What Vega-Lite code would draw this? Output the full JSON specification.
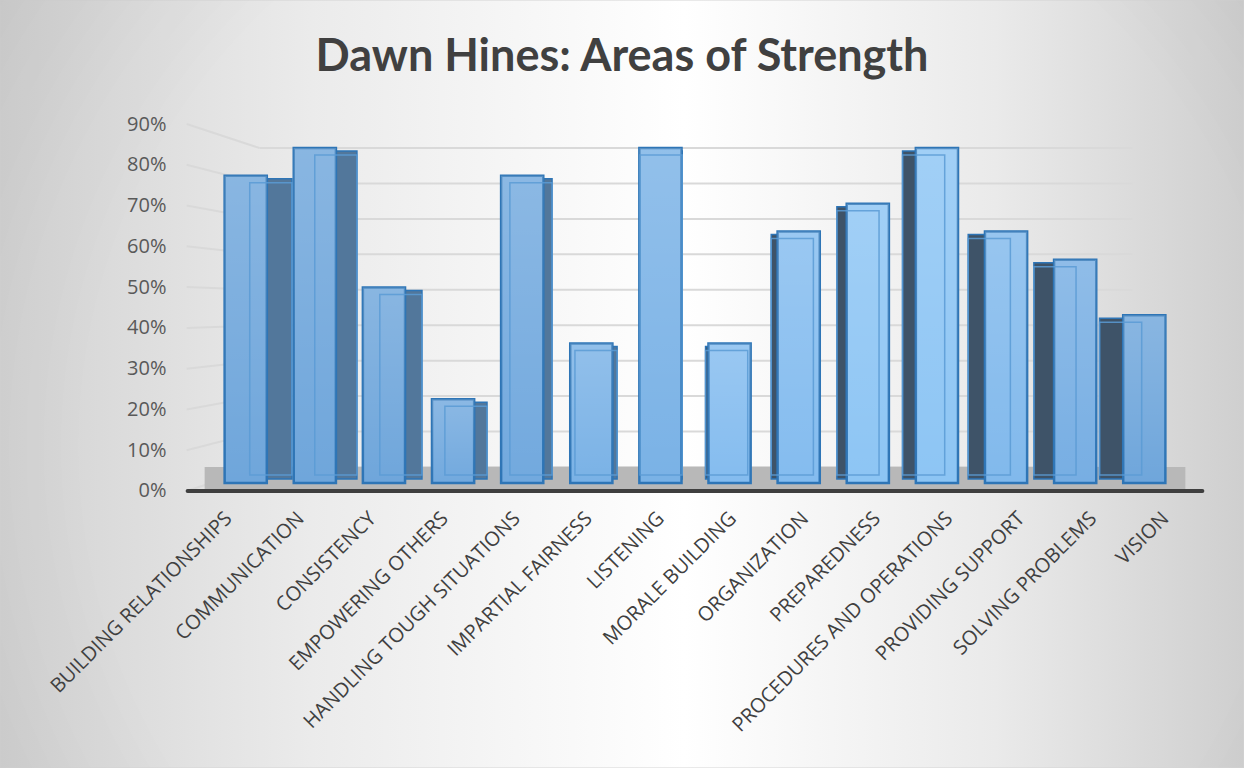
{
  "$schema": "https://vega.github.io/schema/vega-lite/v6.json",
  "width": 1244,
  "height": 768,
  "autosize": {"type": "none"},
  "padding": 0,
  "background": "#f4f4f4",
  "config": {"view": {"stroke": null}},
  "title": {
    "text": "Dawn Hines: Areas of Strength",
    "font": "Lato",
    "fontSize": 45,
    "fontWeight": "bold",
    "color": "#404040",
    "anchor": "middle",
    "frame": "group",
    "baseline": "alphabetic",
    "offset": -116
  },
  "datasets": {
    "skills": [
      {"skill": "BUILDING RELATIONSHIPS", "share": 0.786},
      {"skill": "COMMUNICATION", "share": 0.857},
      {"skill": "CONSISTENCY", "share": 0.5},
      {"skill": "EMPOWERING OTHERS", "share": 0.214},
      {"skill": "HANDLING TOUGH SITUATIONS", "share": 0.786},
      {"skill": "IMPARTIAL FAIRNESS", "share": 0.357},
      {"skill": "LISTENING", "share": 0.857},
      {"skill": "MORALE BUILDING", "share": 0.357},
      {"skill": "ORGANIZATION", "share": 0.643},
      {"skill": "PREPAREDNESS", "share": 0.714},
      {"skill": "PROCEDURES AND OPERATIONS", "share": 0.857},
      {"skill": "PROVIDING SUPPORT", "share": 0.643},
      {"skill": "SOLVING PROBLEMS", "share": 0.571},
      {"skill": "VISION", "share": 0.429}
    ],
    "ticks": [
      {"v": 0}, {"v": 0.1}, {"v": 0.2}, {"v": 0.3}, {"v": 0.4},
      {"v": 0.5}, {"v": 0.6}, {"v": 0.7}, {"v": 0.8}, {"v": 0.9}
    ]
  },
  "encoding": {
    "x": {
      "field": "skill",
      "type": "nominal",
      "title": null,
      "scale": {"range": [211.5, 1178.5], "paddingInner": 0.39, "paddingOuter": 0.19, "align": 0.5},
      "axis": {
        "orient": "bottom",
        "offset": -277,
        "zindex": 2,
        "labelAngle": -45,
        "labelFont": "Open Sans",
        "labelFontSize": 20,
        "labelColor": "#404040",
        "labelPadding": 17,
        "labelLimit": 400,
        "labelOffset": {"expr": "-24 + 0.0426 * (scale('x', datum.value) - 224.9)"},
        "domain": false,
        "ticks": false,
        "grid": false
      }
    }
  },
  "layer": [
    {
      "data": {"values": [{}]},
      "mark": {
        "type": "rect",
        "stroke": "#d4d4d4",
        "strokeWidth": 1,
        "fill": {
          "gradient": "linear",
          "x1": 0, "y1": 0, "x2": 1, "y2": 0,
          "stops": [
            {"offset": 0, "color": "#d2d2d2"},
            {"offset": 0.25, "color": "#ebebeb"},
            {"offset": 0.55, "color": "#ffffff"},
            {"offset": 0.8, "color": "#eaeaea"},
            {"offset": 1, "color": "#cfcfcf"}
          ]
        }
      },
      "encoding": {"x": null}
    },
    {
      "data": {"values": [{}]},
      "mark": {
        "type": "rect",
        "fill": {
          "gradient": "radial",
          "x1": 0.55, "y1": 0.55, "r1": 0,
          "x2": 0.55, "y2": 0.55, "r2": 0.8,
          "stops": [
            {"offset": 0, "color": "rgba(0,0,0,0)"},
            {"offset": 0.6, "color": "rgba(0,0,0,0)"},
            {"offset": 1, "color": "rgba(0,0,0,0.09)"}
          ]
        }
      },
      "encoding": {"x": null}
    },
    {
      "data": {"name": "ticks"},
      "mark": {"type": "rule", "color": "#d9d9d9", "strokeWidth": 2, "xOffset": 35, "x2Offset": -33},
      "encoding": {
        "x": {"datum": "BUILDING RELATIONSHIPS", "bandPosition": 0},
        "x2": {"datum": "VISION", "bandPosition": 1},
        "y": {"field": "v", "type": "quantitative", "scale": {"domain": [-0.84924, 1.31756], "nice": false, "zero": false}, "axis": null}
      }
    },
    {
      "data": {"name": "ticks"},
      "mark": {"type": "rule", "color": "#d9d9d9", "strokeWidth": 2, "xOffset": -38, "x2Offset": 35, "y2Offset": {"expr": "-24 + 53.4 * datum.v"}},
      "encoding": {
        "x": {"datum": "BUILDING RELATIONSHIPS", "bandPosition": 0},
        "x2": {"datum": "BUILDING RELATIONSHIPS", "bandPosition": 0},
        "y": {
          "field": "v",
          "type": "quantitative",
          "scale": {"domain": [-0.6793, 1.2041], "nice": false, "zero": false},
          "axis": {
            "orient": "left",
            "offset": -170,
            "zindex": 2,
            "values": [0, 0.1, 0.2, 0.3, 0.4, 0.5, 0.6, 0.7, 0.8, 0.9],
            "format": ".0%",
            "domain": false,
            "ticks": false,
            "grid": false,
            "labelPadding": 4,
            "labelFont": "Open Sans",
            "labelFontSize": 20,
            "labelColor": "#595959",
            "title": null
          }
        },
        "y2": {"field": "v"}
      }
    },
    {
      "data": {"values": [{}]},
      "layer": [
        {
          "mark": {"type": "rect", "color": "#b8b8b8", "xOffset": -20, "x2Offset": 20},
          "encoding": {
            "x": {"datum": "BUILDING RELATIONSHIPS", "bandPosition": 0},
            "x2": {"datum": "VISION", "bandPosition": 1},
            "y": {"datum": 0, "type": "quantitative", "scale": {"domain": [-0.6793, 1.2041], "nice": false, "zero": false}, "axis": null},
            "y2": {"datum": 0.0589}
          }
        },
        {
          "mark": {"type": "rule", "color": "#3f3f3f", "strokeWidth": 4, "strokeCap": "round", "xOffset": -37, "x2Offset": 37},
          "encoding": {
            "x": {"datum": "BUILDING RELATIONSHIPS", "bandPosition": 0},
            "x2": {"datum": "VISION", "bandPosition": 1},
            "y": {"datum": 0, "type": "quantitative", "scale": {"domain": [-0.6793, 1.2041], "nice": false, "zero": false}, "axis": null}
          }
        }
      ]
    },
    {
      "data": {"name": "skills"},
      "encoding": {
        "y": {
          "field": "share",
          "type": "quantitative",
          "scale": {"domain": [-0.7289, 1.2353], "nice": false, "zero": false},
          "axis": null
        },
        "y2": {"datum": 0}
      },
      "layer": [
        {
          "mark": {
            "type": "bar",
            "xOffset": {"expr": "(650 - scale('x', datum.skill)) * (scale('x', datum.skill) < 650 ? 0.059 : 0.05)"},
            "yOffset": 3,
            "y2Offset": -4,
            "fill": {"expr": "scale('x', datum.skill) < 650 ? '#52779b' : '#3e5368'"},
            "stroke": "#2e75b6",
            "strokeWidth": 1.5
          }
        },
        {
          "mark": {
            "type": "bar",
            "fill": {"expr": "scale('x', datum.skill) < 420 ? '#6fa6db' : scale('x', datum.skill) < 560 ? '#72a9de' : scale('x', datum.skill) < 700 ? '#7ab2e6' : scale('x', datum.skill) < 830 ? '#84bcef' : scale('x', datum.skill) < 960 ? '#8dc5f4' : scale('x', datum.skill) < 1030 ? '#81b9ec' : scale('x', datum.skill) < 1100 ? '#77aee3' : '#6fa6db'"},
            "stroke": "#2e75b6",
            "strokeWidth": 2.5
          }
        },
        {
          "mark": {
            "type": "bar",
            "fill": {
              "gradient": "linear",
              "x1": 0, "y1": 0, "x2": 0, "y2": 1,
              "stops": [
                {"offset": 0, "color": "rgba(255,255,255,0.18)"},
                {"offset": 1, "color": "rgba(255,255,255,0)"}
              ]
            }
          }
        },
        {
          "mark": {
            "type": "bar",
            "xOffset": {"expr": "(650 - scale('x', datum.skill)) * (scale('x', datum.skill) < 650 ? 0.059 : 0.05)"},
            "yOffset": 7,
            "y2Offset": -8,
            "fill": null,
            "fillOpacity": 0,
            "stroke": "#5b9bd5",
            "strokeOpacity": 0.85,
            "strokeWidth": 1.5
          }
        }
      ]
    }
  ],
  "resolve": {"scale": {"y": "independent"}}
}
